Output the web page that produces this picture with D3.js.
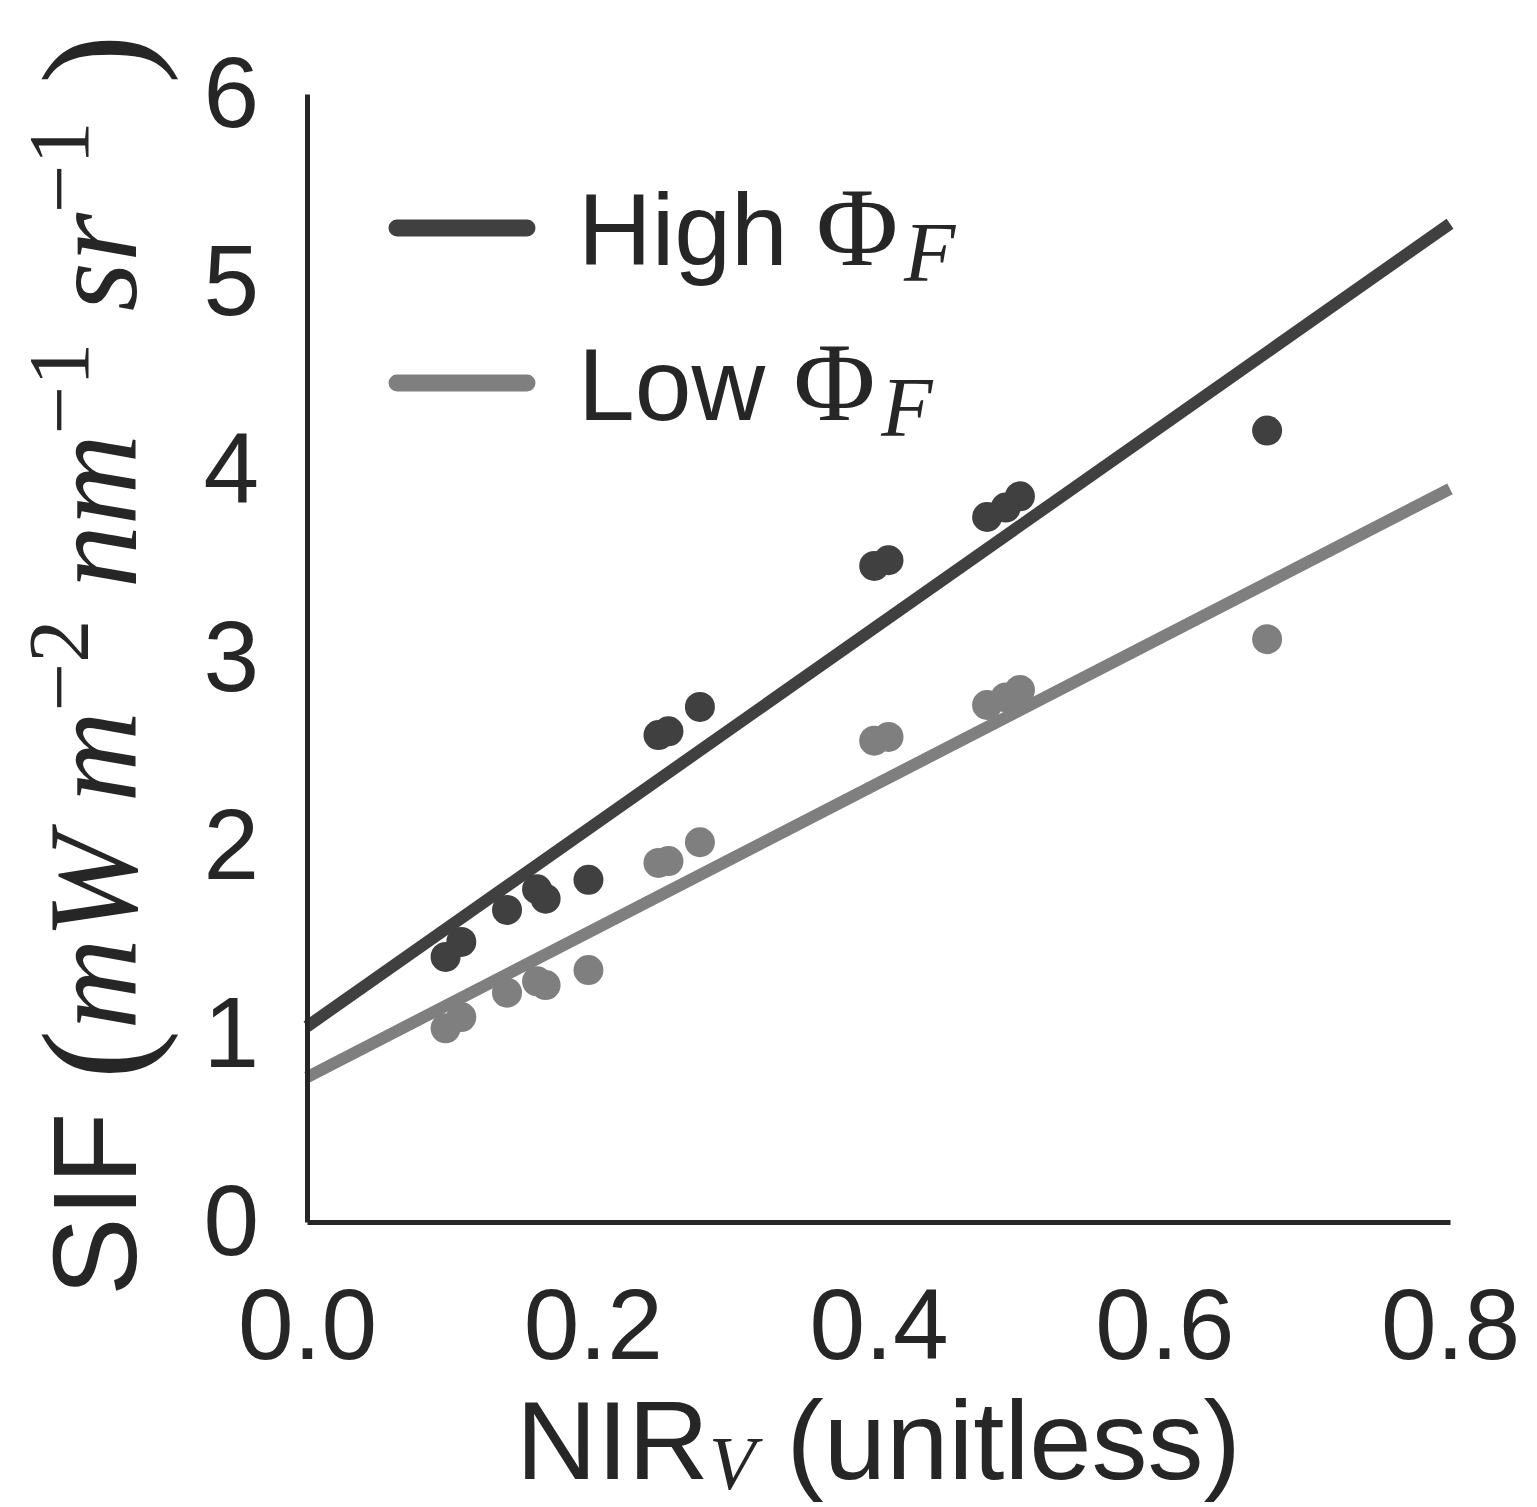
<!DOCTYPE html>
<html><head><meta charset="utf-8">
<script src="https://cdn.jsdelivr.net/npm/d3@7"></script>
<style>html,body{margin:0;padding:0;background:#fff}</style>
</head><body><div id="chart"></div>
<script>
// ---- data ----
const nirv = [0.097, 0.108, 0.140, 0.161, 0.167, 0.197, 0.246, 0.253, 0.275, 0.397, 0.407, 0.476, 0.489, 0.499, 0.672];
const sifHigh = [1.41, 1.49, 1.66, 1.77, 1.72, 1.82, 2.59, 2.61, 2.74, 3.49, 3.52, 3.75, 3.80, 3.86, 4.21];
const sifLow  = [1.03, 1.09, 1.22, 1.28, 1.26, 1.34, 1.91, 1.92, 2.02, 2.56, 2.58, 2.75, 2.79, 2.83, 3.10];
const fitX = [0, 0.8];
const fitHigh = [1.04, 5.31];
const fitLow = [0.77, 3.90];
const xTicks = [0.0, 0.2, 0.4, 0.6, 0.8];
const yTicks = [0, 1, 2, 3, 4, 5, 6];
const seriesNames = ["High", "Low"];

const W = 1537, H = 1507;
const colHigh = "#404040", colLow = "#7f7f7f", ink = "#262626";
const sans = "Liberation Sans, Arial, sans-serif";
const serif = "Liberation Serif, serif";
const svg = d3.select("#chart").append("svg").attr("width", W).attr("height", H);

const x = d3.scaleLinear().domain([0, 0.8]).range([307, 1450]);
const y = d3.scaleLinear().domain([0, 6]).range([1222, 94]);

// fit lines
const line = d3.line().x(d => x(d[0])).y(d => y(d[1]));
[[fitHigh, colHigh], [fitLow, colLow]].forEach(([vals, c]) => {
  svg.append("path").datum(fitX.map((v, i) => [v, vals[i]]))
    .attr("d", line).attr("fill", "none").attr("stroke", c).attr("stroke-width", 12);
});

// points
[[sifHigh, colHigh], [sifLow, colLow]].forEach(([vals, c]) => {
  svg.append("g").selectAll("circle").data(nirv.map((v, i) => [v, vals[i]])).join("circle")
    .attr("cx", d => x(d[0])).attr("cy", d => y(d[1])).attr("r", 15).attr("fill", c);
});

// axes
const xAxis = svg.append("g").attr("transform", `translate(0,${y(0)})`)
  .call(d3.axisBottom(x).tickValues(xTicks).tickFormat(d3.format(".1f")).tickSize(0).tickPadding(66));
const yAxis = svg.append("g").attr("transform", `translate(${x(0)},0)`)
  .call(d3.axisLeft(y).tickValues(yTicks).tickFormat(d3.format("d")).tickSize(0).tickPadding(48));
[xAxis, yAxis].forEach(a => {
  a.select(".domain").attr("stroke", ink).attr("stroke-width", 5);
  a.selectAll("text").attr("fill", ink).attr("font-family", sans).attr("font-size", 100);
});
xAxis.selectAll("text").attr("dy", "0.71em");

// x label
const xl = svg.append("text").attr("x", x(0.4)).attr("y", 1479).attr("text-anchor", "middle")
  .attr("fill", ink).attr("font-family", sans).attr("font-size", 112);
xl.append("tspan").text("NIR");
xl.append("tspan").attr("font-family", serif).attr("font-style", "italic").attr("font-size", 76).attr("dy", 10).text("V");
xl.append("tspan").attr("dy", -10).text(" (unitless)");

// y label
const yl = svg.append("text").attr("transform", "translate(136,665) rotate(-90)").attr("text-anchor", "middle")
  .attr("fill", ink).attr("font-family", sans).attr("font-size", 118);
yl.append("tspan").text("SIF ");
yl.append("tspan").attr("font-family", serif).attr("font-size", 150).attr("dy", 10).text("(");
const parts = [["mW m", "−2"], [" nm", "−1"], [" sr", "−1"]];
let first = true;
parts.forEach(([base, sup]) => {
  yl.append("tspan").attr("font-family", serif).attr("font-style", "italic").attr("font-size", 126)
    .attr("dy", first ? -10 : 48).text(base);
  first = false;
  yl.append("tspan").attr("font-family", serif).attr("font-size", 86).attr("dy", -48).text(sup);
});
yl.append("tspan").attr("font-family", serif).attr("font-size", 150).attr("dy", 58).text(" )");

// legend
const legY = [228, 383];
seriesNames.forEach((name, i) => {
  const c = i === 0 ? colHigh : colLow;
  svg.append("line").attr("x1", 397).attr("x2", 527).attr("y1", legY[i]).attr("y2", legY[i])
    .attr("stroke", c).attr("stroke-width", 17).attr("stroke-linecap", "round");
  const t = svg.append("text").attr("x", 578).attr("y", legY[i] + 37).attr("fill", ink)
    .attr("font-family", sans).attr("font-size", 102);
  t.append("tspan").text(name + " ");
  t.append("tspan").attr("font-family", serif).attr("font-size", 112).text("Φ");
  t.append("tspan").attr("font-family", serif).attr("font-style", "italic").attr("font-size", 84).attr("dx", 6).attr("dy", 16).text("F");
});
</script></body></html>
